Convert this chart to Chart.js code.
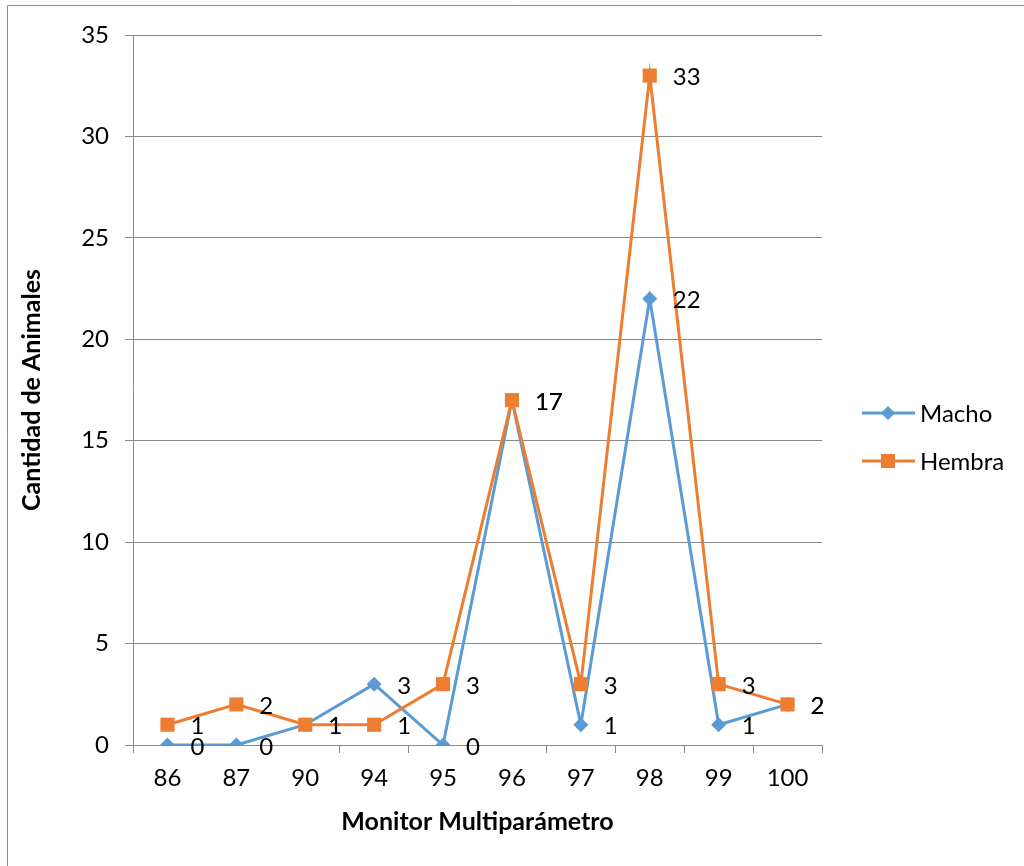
<!DOCTYPE html>
<html>
<head>
<meta charset="utf-8">
<script src="https://cdn.jsdelivr.net/npm/chart.js@4/dist/chart.umd.min.js"></script>
<style>
  html, body { margin: 0; padding: 0; background: #ffffff; }
  #wrap { width: 1024px; height: 866px; position: relative; }
</style>
</head>
<body>
<div id="wrap"><canvas id="c" width="1024" height="866"></canvas></div>
<script>
// Categories (monitor readings) and animal counts per sex
const categories = ['86', '87', '90', '94', '95', '96', '97', '98', '99', '100'];
const macho = [0, 0, 1, 3, 0, 17, 1, 22, 1, 2];
const hembra = [1, 2, 1, 1, 3, 17, 3, 33, 3, 2];
const seriesNames = ['Macho', 'Hembra'];
const yTitle = 'Cantidad de Animales';
const xTitle = 'Monitor Multiparámetro';

const FONT = 'Lato, "Open Sans", "Liberation Sans", sans-serif';
const TEXT_SIZE = 24;
const TITLE_SIZE = 25;
const BLUE = '#5B9BD5';
const ORANGE = '#ED7D31';
const GRID = '#898989';

// Value labels placed to the right of each point
const valueLabels = {
  id: 'valueLabels',
  afterDatasetsDraw(chart) {
    const ctx = chart.ctx;
    ctx.save();
    ctx.font = TEXT_SIZE + 'px ' + FONT;
    ctx.fillStyle = '#000000';
    ctx.textAlign = 'left';
    ctx.textBaseline = 'middle';
    chart.data.datasets.forEach((ds, i) => {
      const meta = chart.getDatasetMeta(i);
      meta.data.forEach((pt, j) => {
        ctx.fillText(String(ds.data[j]), pt.x + 23, pt.y + 2);
      });
    });
    ctx.restore();
  }
};

// Legend on the right: line segment with the series marker in the middle
const sideLegend = {
  id: 'sideLegend',
  afterDraw(chart) {
    const ctx = chart.ctx;
    const rows = [
      { name: seriesNames[0], color: BLUE, y: 413, shape: 'diamond' },
      { name: seriesNames[1], color: ORANGE, y: 461, shape: 'square' }
    ];
    ctx.save();
    rows.forEach(r => {
      ctx.strokeStyle = r.color;
      ctx.lineWidth = 3;
      ctx.beginPath();
      ctx.moveTo(862, r.y);
      ctx.lineTo(915, r.y);
      ctx.stroke();
      ctx.fillStyle = r.color;
      ctx.beginPath();
      if (r.shape === 'diamond') {
        ctx.moveTo(888, r.y - 7);
        ctx.lineTo(895, r.y);
        ctx.lineTo(888, r.y + 7);
        ctx.lineTo(881, r.y);
        ctx.closePath();
      } else {
        ctx.rect(881, r.y - 7, 14, 14);
      }
      ctx.fill();
      ctx.fillStyle = '#000000';
      ctx.font = TEXT_SIZE + 'px ' + FONT;
      ctx.textAlign = 'left';
      ctx.textBaseline = 'middle';
      ctx.fillText(r.name, 920, r.y + 1);
    });
    // outer frame
    ctx.strokeStyle = '#8c8c8c';
    ctx.lineWidth = 1;
    ctx.beginPath();
    ctx.moveTo(7.5, 900);
    ctx.lineTo(7.5, 5.5);
    ctx.lineTo(1100, 5.5);
    ctx.stroke();
    ctx.restore();
  }
};

new Chart(document.getElementById('c'), {
  type: 'line',
  data: {
    labels: categories,
    datasets: [
      {
        label: seriesNames[0],
        data: macho,
        order: 2,
        borderColor: BLUE,
        backgroundColor: BLUE,
        borderWidth: 3,
        pointStyle: 'rectRot',
        pointRadius: 7.5,
        pointBorderWidth: 0,
        pointHoverRadius: 7.5,
        tension: 0
      },
      {
        label: seriesNames[1],
        data: hembra,
        order: 1,
        borderColor: ORANGE,
        backgroundColor: ORANGE,
        borderWidth: 3,
        pointStyle: 'rect',
        pointRadius: 10,
        pointBorderWidth: 0,
        pointHoverRadius: 10,
        tension: 0
      }
    ]
  },
  options: {
    responsive: false,
    animation: false,
    events: [],
    layout: { padding: { top: 35, right: 202, bottom: 0, left: 0 } },
    plugins: {
      legend: { display: false },
      tooltip: { enabled: false }
    },
    scales: {
      x: {
        type: 'category',
        offset: true,
        grid: {
          offset: true,
          drawOnChartArea: false,
          drawTicks: true,
          tickLength: 8,
          color: GRID,
          lineWidth: 1
        },
        border: { display: true, color: GRID, width: 1 },
        ticks: {
          color: '#000000',
          font: { family: FONT, size: TEXT_SIZE },
          padding: 11,
          maxRotation: 0,
          autoSkip: false
        },
        title: {
          display: true,
          text: xTitle,
          color: '#000000',
          font: { family: FONT, size: TITLE_SIZE, weight: 'bold' },
          padding: { top: 0, bottom: 29 }
        },
        afterFit(scale) { scale.height = 121; }
      },
      y: {
        min: 0,
        max: 35,
        ticks: {
          stepSize: 5,
          color: '#000000',
          font: { family: FONT, size: TEXT_SIZE },
          padding: 16
        },
        grid: {
          color: GRID,
          lineWidth: 1,
          drawTicks: true,
          tickLength: 8
        },
        border: { display: true, color: GRID, width: 1 },
        title: {
          display: true,
          text: yTitle,
          color: '#000000',
          font: { family: FONT, size: TITLE_SIZE, weight: 'bold' },
          padding: { top: 17, bottom: 0 }
        },
        afterFit(scale) { scale.width = 133; }
      }
    }
  },
  plugins: [valueLabels, sideLegend]
});
</script>
</body>
</html>
